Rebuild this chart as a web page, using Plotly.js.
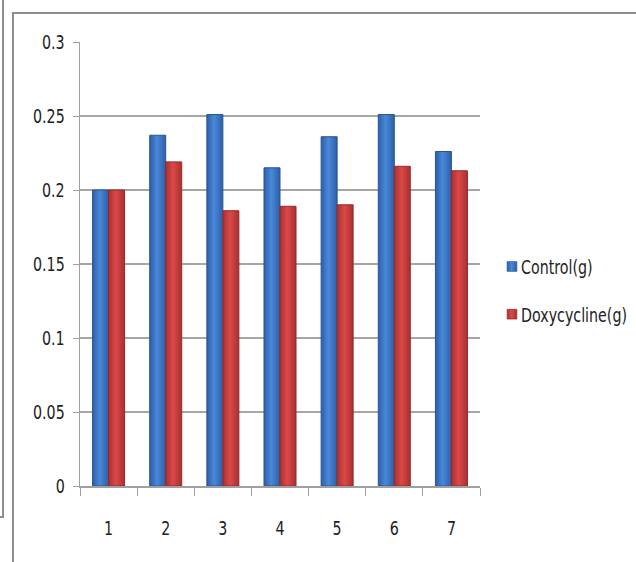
<!DOCTYPE html>
<html>
<head>
<meta charset="utf-8">
<script src="https://cdn.plot.ly/plotly-3.0.1.min.js"></script>
<style>
  html, body { margin: 0; padding: 0; background: #fff; }
  body { width: 636px; height: 562px; position: relative; overflow: hidden; }
  #frameA { position: absolute; left: -100px; top: -10px; width: 102px; height: 526px;
            border-right: 2px solid #8e8e8e; border-bottom: 2px solid #8e8e8e; }
  #frameB { position: absolute; left: 12px; top: 12px; width: 700px; height: 700px;
            border-left: 2px solid #8e8e8e; border-top: 2px solid #8e8e8e; }
  #chart { position: absolute; left: 0; top: 0; width: 636px; height: 562px; }
</style>
</head>
<body>
<div id="frameA"></div>
<div id="frameB"></div>
<div id="chart"></div>
<script>
// Sample weights per trial
const categories = ["1", "2", "3", "4", "5", "6", "7"];
const controlValues = [0.200, 0.237, 0.251, 0.215, 0.236, 0.251, 0.226];
const doxyValues = [0.200, 0.219, 0.186, 0.189, 0.190, 0.216, 0.213];
const yTickVals = [0, 0.05, 0.1, 0.15, 0.2, 0.25, 0.3];
const yTickText = ["0", "0.05", "0.1", "0.15", "0.2", "0.25", "0.3"];

const FONT = "DejaVu Sans, sans-serif";
const TEXT_SQUEEZE = 0.75;   // horizontal narrowing of all labels

const traces = [
  {
    type: "bar", name: "Control(g)", x: categories, y: controlValues,
    legendgroup: "a",
    marker: { color: "#3b74c6", line: { color: "#2a558f", width: 1 } }
  },
  {
    type: "bar", name: "Doxycycline(g)", x: categories, y: doxyValues,
    legendgroup: "b",
    marker: { color: "#cc3b3b", line: { color: "#952a2a", width: 1 } }
  }
];

const layout = {
  width: 636, height: 562,
  margin: { l: 80, r: 156, t: 42, b: 76, autoexpand: false },
  paper_bgcolor: "rgba(0,0,0,0)",
  plot_bgcolor: "rgba(0,0,0,0)",
  barmode: "group",
  bargap: 0.44,
  bargroupgap: 0,
  font: { family: FONT, size: 19, color: "#222" },
  showlegend: true,
  legend: {
    x: 1.0025, xanchor: "left", y: 0.44, yanchor: "middle",
    traceorder: "grouped", tracegroupgap: 20,
    font: { family: FONT, size: 19, color: "#222" },
    itemwidth: 30
  },
  xaxis: {
    type: "category",
    tickson: "boundaries",
    ticks: "outside", ticklen: 8, tickcolor: "#a0a0a0",
    showline: true, linecolor: "#a0a0a0", linewidth: 1.5,
    showgrid: false, zeroline: false,
    ticklabelstandoff: 25
  },
  yaxis: {
    range: [0, 0.3],
    tickvals: yTickVals, ticktext: yTickText,
    ticks: "outside", ticklen: 6, tickcolor: "#a0a0a0",
    showline: true, linecolor: "#a0a0a0", linewidth: 1.5,
    showgrid: true, gridcolor: "#a6a6a6", gridwidth: 1.3,
    zeroline: false,
    ticklabelstandoff: 4
  }
};

const ns = "http://www.w3.org/2000/svg";

function shadeBars(gd) {
  // Cylindrical bar shading: darker edges, lighter centre
  const svg = gd.querySelector("svg.main-svg");
  if (!svg.querySelector("#gBlue")) {
    const defs = svg.querySelector("defs") || svg.insertBefore(document.createElementNS(ns, "defs"), svg.firstChild);
    const grad = function (id, edge, mid) {
      const g = document.createElementNS(ns, "linearGradient");
      g.setAttribute("id", id);
      g.setAttribute("x1", "0"); g.setAttribute("x2", "1");
      g.setAttribute("y1", "0"); g.setAttribute("y2", "0");
      [[0, edge], [0.45, mid], [1, edge]].forEach(function (s) {
        const st = document.createElementNS(ns, "stop");
        st.setAttribute("offset", s[0]);
        st.setAttribute("stop-color", s[1]);
        g.appendChild(st);
      });
      defs.appendChild(g);
    };
    grad("gBlue", "#2c5fa8", "#4a88da");
    grad("gRed", "#a93030", "#dc4848");
  }
  gd.querySelectorAll(".barlayer .trace").forEach(function (t, i) {
    t.querySelectorAll(".point path").forEach(function (p) {
      p.style.fill = i === 0 ? "url(#gBlue)" : "url(#gRed)";
    });
  });
  // Legend swatches: same shading, slightly smaller and closer to the text
  gd.querySelectorAll(".legend .traces").forEach(function (t, i) {
    t.querySelectorAll(".legendpoints path").forEach(function (p) {
      p.style.fill = i === 0 ? "url(#gBlue)" : "url(#gRed)";
    });
    const pts = t.querySelector(".legendpoints");
    if (pts && !pts.getAttribute("data-moved")) {
      pts.setAttribute("transform", "translate(31,0) scale(0.8) translate(-20,0)");
      pts.setAttribute("data-moved", "1");
    }
  });
}

function squeezeText(gd) {
  // Narrow the label glyphs around their anchor points
  gd.querySelectorAll("g.xtick > text, g.ytick > text, text.legendtext").forEach(function (el) {
    const prev = el.getAttribute("transform") || "";
    if (prev.indexOf("scale(") !== -1) return;
    const ax = parseFloat(el.getAttribute("x")) || 0;
    const ay = parseFloat(el.getAttribute("y")) || 0;
    el.setAttribute("transform", prev + " translate(" + ax + "," + ay + ") scale(" + TEXT_SQUEEZE + ",1) translate(" + (-ax) + "," + (-ay) + ")");
  });
}

function decorate(gd) { shadeBars(gd); squeezeText(gd); }

const chartDiv = document.getElementById("chart");
Plotly.newPlot(chartDiv, traces, layout, { displayModeBar: false, staticPlot: true }).then(function (gd) {
  decorate(gd);
  gd.on("plotly_afterplot", function () { decorate(gd); });
  [30, 150, 400, 900].forEach(function (ms) { setTimeout(function () { decorate(gd); }, ms); });
});
</script>
</body>
</html>
